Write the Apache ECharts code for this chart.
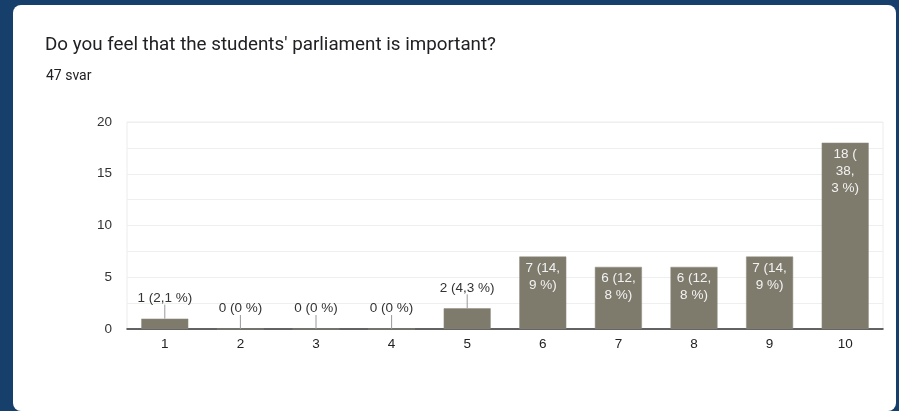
<!DOCTYPE html>
<html>
<head>
<meta charset="utf-8">
<script src="https://cdn.jsdelivr.net/npm/echarts@6/dist/echarts.min.js"></script>
<style>
html,body{margin:0;padding:0;width:899px;height:411px;background:#173f6c;overflow:hidden;}
#card{position:absolute;left:13px;top:5px;width:883px;height:406px;background:#fff;border-radius:8px;}
#chart{position:absolute;left:0;top:0;width:899px;height:411px;}
</style>
</head>
<body>
<div id="card"></div>
<div id="chart"></div>
<script>
const titleText = "Do you feel that the students' parliament is important?";
const subtitleText = "47 svar";
const categories = ['1','2','3','4','5','6','7','8','9','10'];
const values = [1, 0, 0, 0, 2, 7, 6, 6, 7, 18];
const labelTexts = ['1 (2,1 %)', '0 (0 %)', '0 (0 %)', '0 (0 %)', '2 (4,3 %)',
  '7 (14,\n9 %)', '6 (12,\n8 %)', '6 (12,\n8 %)', '7 (14,\n9 %)', '18 (\n38,\n3 %)'];
const insideThreshold = 5;

const TFONT = 'Roboto, Arial, sans-serif';
const FONT = '"Liberation Sans", Arial, sans-serif';
const FS = 13.5;
const chart = echarts.init(document.getElementById('chart'), null, {renderer:'canvas'});

const barData = values.map((v, i) => {
  const inside = v >= insideThreshold;
  return {
    value: v,
    label: inside ? {
      show: true, position: 'insideTop', distance: 3,
      color: '#f2f2f2', fontSize: FS, lineHeight: 17, align: 'center',
      fontFamily: FONT, formatter: () => labelTexts[i]
    } : {
      show: true, position: 'top', distance: 13,
      color: '#333', fontSize: FS, fontFamily: FONT, formatter: () => labelTexts[i]
    }
  };
});
const leaderData = values.map((v, i) => [i, v]).filter(d => d[1] < insideThreshold);

chart.setOption({
  animation: false,
  title: [
    {text: titleText, left: 40, top: 31, textStyle: {fontSize: 18.8, fontWeight: 'normal', color: '#202124', fontFamily: TFONT}},
    {text: subtitleText, left: 41, top: 64, textStyle: {fontSize: 14, fontWeight: 'normal', color: '#202124', fontFamily: TFONT}}
  ],
  grid: {left: 127, right: 16, top: 122, bottom: 82, show: true, borderColor: '#ececec', borderWidth: 1},
  xAxis: {
    type: 'category', data: categories,
    axisTick: {show: false},
    axisLine: {lineStyle: {color: '#333', width: 1.5}},
    axisLabel: {color: '#222', fontSize: FS, margin: 8, fontFamily: FONT}
  },
  yAxis: {
    type: 'value', min: 0, max: 20, interval: 2.5,
    axisLine: {show: false}, axisTick: {show: false},
    splitLine: {lineStyle: {color: '#efefef'}},
    axisLabel: {color: '#333', fontSize: FS, margin: 15, fontFamily: FONT,
      formatter: v => (v % 5 === 0 ? String(v) : '')}
  },
  series: [
    {
      type: 'bar', data: barData, barWidth: 47,
      itemStyle: {color: '#7e7b6d', borderColor: '#8e8b7e', borderWidth: 0.5},
      z: 3
    },
    {
      type: 'custom', data: leaderData, z: 4, silent: true,
      renderItem: (params, api) => {
        const p = api.coord([api.value(0), api.value(1)]);
        return {type: 'line', shape: {x1: p[0], y1: p[1], x2: p[0], y2: p[1] - 14},
          style: {stroke: '#999', lineWidth: 1}};
      }
    }
  ]
});
</script>
</body>
</html>
